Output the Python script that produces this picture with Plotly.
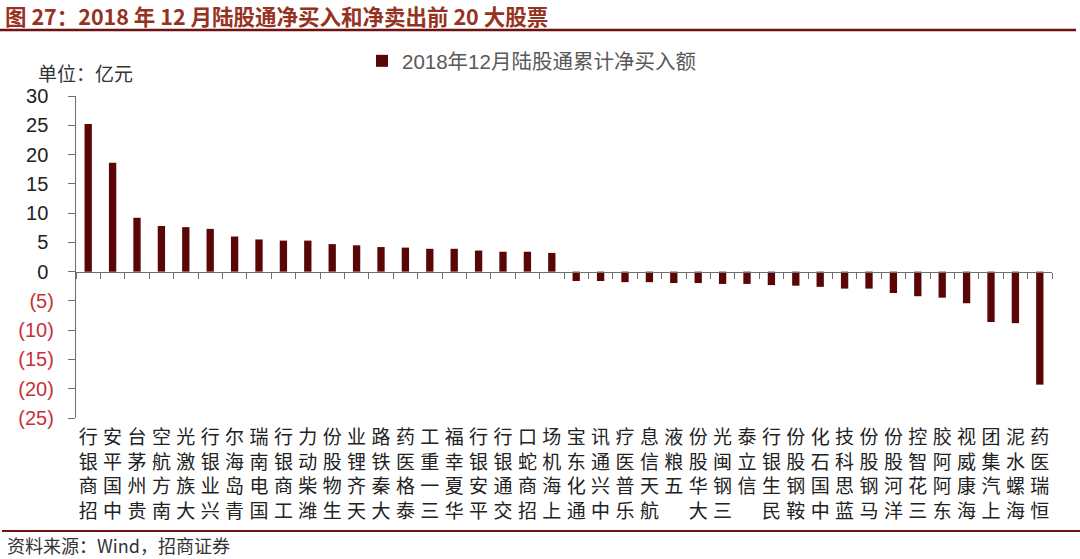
import plotly.graph_objects as go

# ---------------- data ----------------
stocks = [
    "招商银行", "中国平安", "贵州茅台", "南方航空", "大族激光", "兴业银行", "青岛海尔", "国电南瑞",
    "工商银行", "潍柴动力", "生物股份", "天齐锂业", "大秦铁路", "泰格医药", "三一重工", "华夏幸福",
    "平安银行", "交通银行", "招商蛇口", "上海机场",
    "通化东宝", "中兴通讯", "乐普医疗", "航天信息", "五粮液", "大华股份", "三钢闽光", "信立泰",
    "民生银行", "鞍钢股份", "中国石化", "蓝思科技", "马钢股份", "洋河股份", "三花智控", "东阿阿胶",
    "海康威视", "上汽集团", "海螺水泥", "恒瑞医药",
]
net_buy = [
    25.2, 18.6, 9.2, 7.8, 7.6, 7.3, 6.0, 5.5, 5.3, 5.3,
    4.7, 4.5, 4.2, 4.1, 3.9, 3.9, 3.6, 3.4, 3.4, 3.2,
    -1.6, -1.6, -1.8, -1.8, -1.95, -1.95, -2.1, -2.1, -2.3, -2.4,
    -2.6, -2.9, -2.9, -3.65, -4.2, -4.45, -5.4, -8.6, -8.8, -19.3,
]
y_ticks = [30, 25, 20, 15, 10, 5, 0, -5, -10, -15, -20, -25]
series_name = "2018年12月陆股通累计净买入额"
title_text = "图 27：2018 年 12 月陆股通净买入和净卖出前 20 大股票"
unit_text = "单位：亿元"
source_text = "资料来源：Wind，招商证券"

# ---------------- layout helpers ----------------
W, H = 1080, 559
PL, PT, PR, PB = 76, 96, 1052, 418          # plot area on screen
ML, MT = PL, PT
PW, PH = PR - PL, PB - PT
MR, MB = W - ML - PW, H - MT - PH


def px2x(px):
    return (px - PL) / PW


def py2y(py):
    return (PB - py) / PH


BAR = "#5a0606"
RED = "#c8313a"
AXIS = "#6e6e6e"
CJK = "Noto Sans CJK SC"


def vertical(label):
    return "<br>".join(reversed(list(label)))


def ylabel(v):
    if v < 0:
        return f"<span style='color:{RED}'>({abs(v)})</span>"
    return f"{v}\u00a0"


fig = go.Figure()
fig.add_trace(go.Bar(
    x=stocks, y=net_buy, name=series_name,
    marker=dict(color=BAR, line=dict(width=0)),
    width=0.3, xaxis="x", yaxis="y", showlegend=True,
))
# helper (invisible) trace so the zero axis knows the categories
fig.add_trace(go.Scatter(
    x=stocks, y=[0] * len(stocks), mode="markers",
    marker=dict(opacity=0, size=1), xaxis="x2", yaxis="y",
    showlegend=False, hoverinfo="skip",
))

zero_pos = (0 - min(y_ticks)) / (max(y_ticks) - min(y_ticks))

fig.update_layout(
    width=W, height=H,
    margin=dict(l=ML, r=MR, t=MT, b=MB, pad=0),
    paper_bgcolor="white", plot_bgcolor="white",
    font=dict(family="Liberation Sans, Arial", color="#222"),
    bargap=0.7,
    xaxis=dict(
        type="category", categoryorder="array", categoryarray=stocks,
        tickvals=stocks, ticktext=[vertical(s) for s in stocks],
        ticks="", showline=False, showgrid=False, zeroline=False,
        tickangle=0, ticklabelstandoff=6,
        tickfont=dict(family=CJK, size=19, color="#222"),
        range=[-0.5, len(stocks) - 0.5],
    ),
    xaxis2=dict(
        type="category", categoryorder="array", categoryarray=stocks,
        overlaying="x", anchor="free", position=zero_pos,
        range=[-0.5, len(stocks) - 0.5],
        showline=True, linecolor=AXIS, linewidth=1.3,
        ticks="outside", ticklen=6, tickwidth=1.2, tickcolor=AXIS,
        tickson="boundaries", showticklabels=False, showgrid=False, zeroline=False,
    ),
    yaxis=dict(
        range=[min(y_ticks), max(y_ticks)],
        tickvals=y_ticks, ticktext=[ylabel(v) for v in y_ticks],
        ticks="outside", ticklen=7, tickwidth=1.2, tickcolor=AXIS,
        showline=True, linecolor=AXIS, linewidth=1.3,
        showgrid=False, zeroline=False,
        ticklabelstandoff=10,
        tickfont=dict(family="Liberation Sans, Arial", size=20, color="#222"),
    ),
    legend=dict(
        x=px2x(362), y=py2y(41), xanchor="left", yanchor="top",
        bgcolor="rgba(0,0,0,0)", itemwidth=30,
        font=dict(family=f"Liberation Sans, {CJK}", size=20.5, color="#595959"),
    ),
    showlegend=True,
)

fig.add_annotation(
    text=f"<b>{title_text}</b>", xref="paper", yref="paper",
    x=px2x(4), y=py2y(16), xanchor="left", yanchor="middle", showarrow=False,
    borderpad=0,
    font=dict(family=CJK, size=21.5, color="#963222"),
)
fig.add_annotation(
    text=unit_text, xref="paper", yref="paper",
    x=px2x(36), y=py2y(72), xanchor="left", yanchor="middle", showarrow=False,
    font=dict(family=CJK, size=19, color="#333"),
)
fig.add_annotation(
    text=source_text, xref="paper", yref="paper",
    x=px2x(5), y=py2y(545), xanchor="left", yanchor="middle", showarrow=False,
    font=dict(family=CJK, size=18, color="#333"),
)

fig.add_shape(type="line", xref="paper", yref="paper",
              x0=px2x(0), x1=px2x(1076), y0=py2y(30), y1=py2y(30),
              line=dict(color="#6d1111", width=2.5))
fig.add_shape(type="line", xref="paper", yref="paper",
              x0=px2x(2), x1=px2x(1080), y0=py2y(531), y1=py2y(531),
              line=dict(color="#6d1111", width=2))

fig.write_html(
    "out.html",
    config={"displayModeBar": False},
    post_script="document.body.style.margin='0';document.body.style.overflow='hidden';",
)
